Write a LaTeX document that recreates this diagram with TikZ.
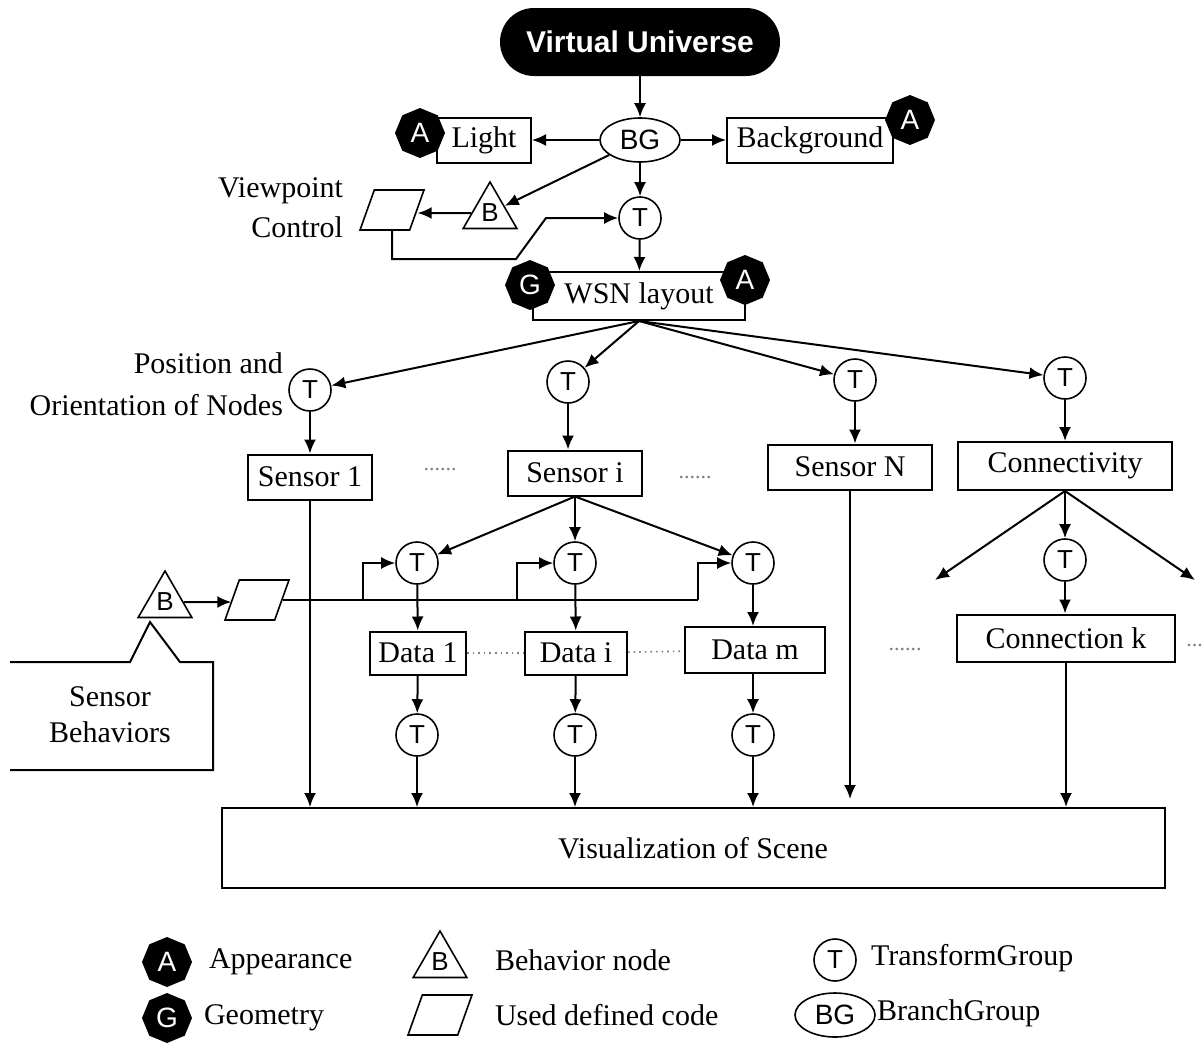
\documentclass[tikz,border=0pt]{standalone}
\usepackage{fontspec}
\setmainfont{Liberation Serif}
\setsansfont{Liberation Sans}
\usepackage{tikz}
\usetikzlibrary{shapes.geometric, arrows.meta, positioning}

\begin{document}
\begin{tikzpicture}[
    x=0.5pt, y=-0.5pt,
    font=\fontsize{15}{18}\selectfont,
    box/.style={rectangle, draw, line width=1pt, minimum height=22.5pt, inner sep=2pt},
    universe/.style={rectangle, rounded corners=17pt, fill=black, text=white, minimum width=140pt, minimum height=34pt, font=\sffamily\bfseries\fontsize{15}{15}\selectfont},
    tgroup/.style={circle, draw, line width=0.8pt, minimum size=21pt, inner sep=0pt, font=\sffamily\fontsize{13}{13}\selectfont},
    bgroup/.style={ellipse, draw, line width=0.8pt, minimum width=40pt, minimum height=22pt, inner sep=0pt, font=\sffamily\fontsize{14}{14}\selectfont},
    behav/.style={regular polygon, regular polygon sides=3, draw, line width=0.8pt, minimum size=31pt, inner sep=0pt, font=\sffamily\fontsize{13}{13}\selectfont},
    usercode/.style={trapezium, trapezium left angle=68, trapezium right angle=112, trapezium stretches=true, draw, line width=0.8pt, minimum width=32pt, minimum height=20pt, inner sep=2pt},
    appear/.style={regular polygon, regular polygon sides=8, shape border rotate=22.5, fill=black, minimum size=25pt, inner sep=0pt, text=white, font=\sffamily\fontsize{14}{14}\selectfont},
    arrow/.style={-{Latex[length=7pt,width=6pt]}, line width=1pt},
    link/.style={line width=1pt},
    dotline/.style={dotted, line width=0.8pt, gray},
    dots/.style={text=gray, font=\fontsize{11}{11}\selectfont}
]
\useasboundingbox (0,0) rectangle (1203,1044);

% Top of the scene graph
\node[universe] (vu) at (640,42) {Virtual Universe};
\node[bgroup] (bg) at (640,140) {BG};
\node[box, minimum width=47pt] (light) at (484,140) {Light};
\node[appear] (alight) at (420,133) {A};
\node[box, minimum width=83pt] (backgr) at (810,140) {Background};
\node[appear] (aback) at (910,120) {A};
\node[behav] (bview) at (490,213) {B};
\node[usercode] (vcode) at (392,210) {};
\node[anchor=east, align=right, font=\fontsize{15}{20}\selectfont] (vtext) at (350,208) {Viewpoint\\Control};
\node[tgroup] (tview) at (640,218) {T};
\node[box, minimum width=106pt, minimum height=24pt] (wsn) at (639,296) {WSN layout};
\node[appear] (gwsn) at (530,285) {G};
\node[appear] (awsn) at (745,280) {A};
\coordinate (vbend) at (516,259);
\coordinate (vrise) at (546,218);

\draw[arrow] (vu) -- (bg);
\draw[arrow] (bg) -- (light);
\draw[arrow] (bg) -- (backgr);
\draw[arrow] (bg) -- (bview);
\draw[arrow] (bview) -- (bview -| vcode.east);
\draw[arrow] (bg) -- (tview);
\draw[arrow] (tview) -- (wsn);
\draw[arrow] (vcode.south) |- (vbend) -- (vrise) -- (tview.west);

% Sensors and connectivity
\node[tgroup] (tpos1) at (310,390) {T};
\node[tgroup] (tposi) at (568,382) {T};
\node[tgroup] (tposn) at (855,380) {T};
\node[tgroup] (tconn) at (1065,378) {T};
\node[anchor=east, align=right, font=\fontsize{15}{21}\selectfont] (postext) at (290,384) {Position and\\Orientation of Nodes};
\node[box, minimum width=62pt] (sens1) at (310,477) {Sensor 1};
\node[box, minimum width=67pt] (sensi) at (575,473) {Sensor i};
\node[box, minimum width=82pt] (sensn) at (850,467) {Sensor N};
\node[box, minimum width=107pt, minimum height=24pt] (conn) at (1065,466) {Connectivity};
\node[dots] (dots1) at (440,470) {......};
\node[dots] (dots2) at (695,478) {......};

\draw[arrow] (wsn.south) -- (tpos1);
\draw[arrow] (wsn.south) -- (tposi);
\draw[arrow] (wsn.south) -- (tposn);
\draw[arrow] (wsn.south) -- (tconn);
\draw[arrow] (tpos1) -- (sens1);
\draw[arrow] (tposi) -- (tposi |- sensi.north);
\draw[arrow] (tposn) -- (tposn |- sensn.north);
\draw[arrow] (tconn) -- (conn);

% Data of sensor i
\node[tgroup] (tdat1) at (417,563) {T};
\node[tgroup] (tdati) at (575,563) {T};
\node[tgroup] (tdatm) at (753,563) {T};
\node[behav] (bsens) at (165,602) {B};
\node[usercode] (scode) at (257,600) {};
\coordinate (bus1) at (363,600);
\coordinate (bus2) at (517,600);
\coordinate (bus3) at (698,600);
\node[box, minimum width=48pt, minimum height=21.5pt] (data1) at (418,653) {Data 1};
\node[box, minimum width=51pt, minimum height=21.5pt] (datai) at (576,653) {Data i};
\node[box, minimum width=70pt, minimum height=23pt] (datam) at (755,650) {Data m};
\node[tgroup] (tout1) at (417,735) {T};
\node[tgroup] (touti) at (575,735) {T};
\node[tgroup] (toutm) at (753,735) {T};
\node[align=center, font=\fontsize{15}{18}\selectfont] (sbtext) at (110,715) {Sensor\\Behaviors};
\coordinate (tipb) at (150,622);

\draw[arrow] (sensi.south) -- (tdat1);
\draw[arrow] (sensi.south) -- (tdati);
\draw[arrow] (sensi.south) -- (tdatm);
\draw[arrow] (bsens) -- (bsens -| scode.west);
\draw[link] (scode.east) -- (bus3);
\draw[arrow] (bus1) |- (tdat1.west);
\draw[arrow] (bus2) |- (tdati.west);
\draw[arrow] (bus3) |- (tdatm.west);
\draw[arrow] (tdat1) -- (data1);
\draw[arrow] (tdati) -- (datai);
\draw[arrow] (tdatm) -- (tdatm |- datam.north);
\draw[dotline] (data1) -- (datai);
\draw[dotline] (datai) -- (datam);
\draw[arrow] (data1) -- (tout1);
\draw[arrow] (datai) -- (touti);
\draw[arrow] (tdatm |- datam.south) -- (toutm);
\draw[link] (10,662) -- (130,662) -- (tipb) -- (180,662) -- (213,662) -- (213,770) -- (10,770);

% Connections
\node[tgroup] (tlink) at (1065,560) {T};
\node[box, minimum width=109pt, minimum height=23.5pt] (connk) at (1066,638) {Connection k};
\node[dots] (dots3) at (905,650) {......};
\node[dots, anchor=west, inner sep=0pt] (dots4) at (1186,645) {...};
\coordinate (connl) at (935,580);
\coordinate (connr) at (1195,580);

\draw[arrow] (conn.south) -- (connl);
\draw[arrow] (conn.south) -- (connr);
\draw[arrow] (conn) -- (tlink);
\draw[arrow] (tlink) -- (tlink |- connk.north);

% Scene
\node[box, minimum width=471.5pt, minimum height=40pt] (vis) at (693,848) {Visualization of Scene};
\draw[arrow] (sens1) -- (sens1 |- vis.north);
\draw[arrow] (tout1) -- (tout1 |- vis.north);
\draw[arrow] (touti) -- (touti |- vis.north);
\draw[arrow] (toutm) -- (toutm |- vis.north);
\draw[arrow, shorten >=4pt] (sensn) -- (sensn |- vis.north);
\draw[arrow] (connk) -- (connk |- vis.north);

% Legend
\node[appear] (legA) at (167,962) {A};
\node[anchor=west] (legAtxt) at (202,962) {Appearance};
\node[appear] (legG) at (167,1018) {G};
\node[anchor=west] (legGtxt) at (197,1018) {Geometry};
\node[behav] (legB) at (440,962) {B};
\node[anchor=west] (legBtxt) at (488,960) {Behavior node};
\node[usercode] (legU) at (440,1015) {};
\node[anchor=west] (legUtxt) at (488,1015) {Used defined code};
\node[tgroup] (legT) at (835,960) {T};
\node[anchor=west] (legTtxt) at (864,958) {TransformGroup};
\node[bgroup] (legBG) at (835,1015) {BG};
\node[anchor=west] (legBGtxt) at (870,1013) {BranchGroup};

\end{tikzpicture}
\end{document}
